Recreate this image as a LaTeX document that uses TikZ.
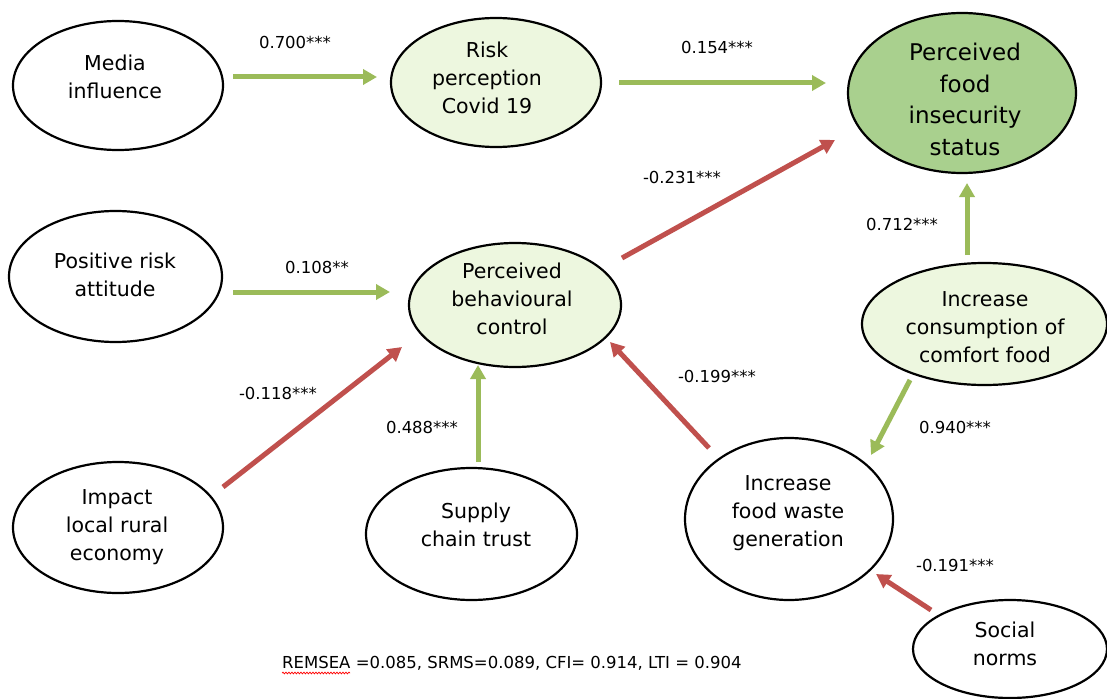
\documentclass[tikz,border=0pt]{standalone}
\usepackage{fontspec}
\setmainfont{DejaVu Sans}
\usetikzlibrary{shapes.geometric,arrows.meta,decorations.pathmorphing}
\definecolor{grn}{HTML}{9BBB59}
\definecolor{rd}{HTML}{C0504D}
\definecolor{litefill}{HTML}{EDF7DF}
\definecolor{darkfill}{HTML}{A9D08E}
\begin{document}
\begin{tikzpicture}[x=1pt,y=-1pt,
  var/.style={ellipse, draw=black, line width=2.2pt, inner sep=0pt, fill=white},
  lite/.style={var, fill=litefill},
  txt/.style={align=center, font=\fontsize{20.5}{28}\selectfont, inner sep=0pt},
  bigtxt/.style={align=center, font=\fontsize{23}{31.5}\selectfont, inner sep=0pt},
  coef/.style={font=\fontsize{16.5}{19}\selectfont, inner sep=0pt},
  ga/.style={draw=grn, line width=5pt, -{Triangle[length=14pt,width=15pt]}},
  ra/.style={draw=rd, line width=5pt, -{Triangle[length=14pt,width=15pt]}}]
\fill[white] (0,0) rectangle (1107,698);
\useasboundingbox (0,0) rectangle (1107,698);

% ellipses
\node[var,  minimum width=210pt, minimum height=129pt] (media)   at (118,85.5) {};
\node[lite, minimum width=210pt, minimum height=129pt] (risk)    at (496,82.5) {};
\node[var, fill=darkfill, minimum width=228pt, minimum height=160pt] (fi) at (962,93) {};
\node[var,  minimum width=213pt, minimum height=131pt] (posrisk) at (115.5,276.5) {};
\node[lite, minimum width=212pt, minimum height=124pt] (pbc)     at (515,305) {};
\node[lite, minimum width=245pt, minimum height=122pt] (comfort) at (984.5,324) {};
\node[var,  minimum width=210pt, minimum height=131pt] (impact)  at (118,527.5) {};
\node[var,  minimum width=211pt, minimum height=132pt] (supply)  at (471.5,534) {};
\node[var,  minimum width=208pt, minimum height=162pt] (waste)   at (789,519) {};
\node[var,  minimum width=194pt, minimum height=98pt]  (social)  at (1010,649) {};

% texts
\node[txt] (mediat)   at (115,76.5)  {Media\\influence};
\node[txt] (riskt)    at (487,77.5)  {Risk\\perception\\Covid 19};
\node[bigtxt] (fit)   at (965,99.5)  {Perceived\\food\\insecurity\\status};
\node[txt] (posriskt) at (115,275)   {Positive risk\\attitude};
\node[txt] (pbct)     at (512,299)   {Perceived\\behavioural\\control};
\node[txt] (comfortt) at (985,327.5) {Increase\\consumption of\\comfort food};
\node[txt] (impactt)  at (117,527)   {Impact\\local rural\\economy};
\node[txt] (supplyt)  at (476,525)   {Supply\\chain trust};
\node[txt] (wastet)   at (788,513)   {Increase\\food waste\\generation};
\node[txt] (socialt)  at (1005,643.5){Social\\norms};

% connectors
\draw[ga] ([shift={(115,-8.5)}]media.center) -- ([shift={(-119,-5.5)}]risk.center);
\draw[ga] ([shift={(123,0.5)}]risk.center) -- ([shift={(-136,-10)}]fi.center);
\draw[ra] ([shift={(107,-47)}]pbc.center) -- ([shift={(-127,47)}]fi.center);
\draw[ga] ([shift={(117.5,15.5)}]posrisk.center) -- ([shift={(-125,-13)}]pbc.center);
\draw[ra] ([shift={(105,-40.5)}]impact.center) -- ([shift={(-113,42)}]pbc.center);
\draw[ga] ([shift={(6.5,-72)}]supply.center) -- ([shift={(-37,60)}]pbc.center);
\draw[ra] ([shift={(-80,-71)}]waste.center) -- ([shift={(95,37)}]pbc.center);
\draw[ga] ([shift={(-17.5,-69)}]comfort.center) -- ([shift={(5,90)}]fi.center);
\draw[ga] ([shift={(-74.5,56)}]comfort.center) -- ([shift={(82,-64)}]waste.center);
\draw[ra] ([shift={(-79,-39)}]social.center) -- ([shift={(87,55)}]waste.center);

% coefficients
\node[coef] (c1)  at (295,42)  {0.700***};
\node[coef] (c2)  at (717,47)  {0.154***};
\node[coef] (c3)  at (682,177) {-0.231***};
\node[coef] (c4)  at (317,267) {0.108**};
\node[coef] (c5)  at (278,393) {-0.118***};
\node[coef] (c6)  at (422,427) {0.488***};
\node[coef] (c7)  at (717,376) {-0.199***};
\node[coef] (c8)  at (902,224) {0.712***};
\node[coef] (c9)  at (955,427) {0.940***};
\node[coef] (c10) at (955,565) {-0.191***};

% fit indices
\node[font=\fontsize{16.5}{20}\selectfont, inner sep=0pt, anchor=base west] (fitidx) at (282,668)
  {REMSEA =0.085, SRMS=0.089, CFI= 0.914, LTI = 0.904};
\draw[red, line width=0.7pt, decorate, decoration={snake, amplitude=0.9pt, segment length=3pt}]
  ([yshift=-5pt]fitidx.base west) -- ++(68,0);
\end{tikzpicture}
\end{document}
